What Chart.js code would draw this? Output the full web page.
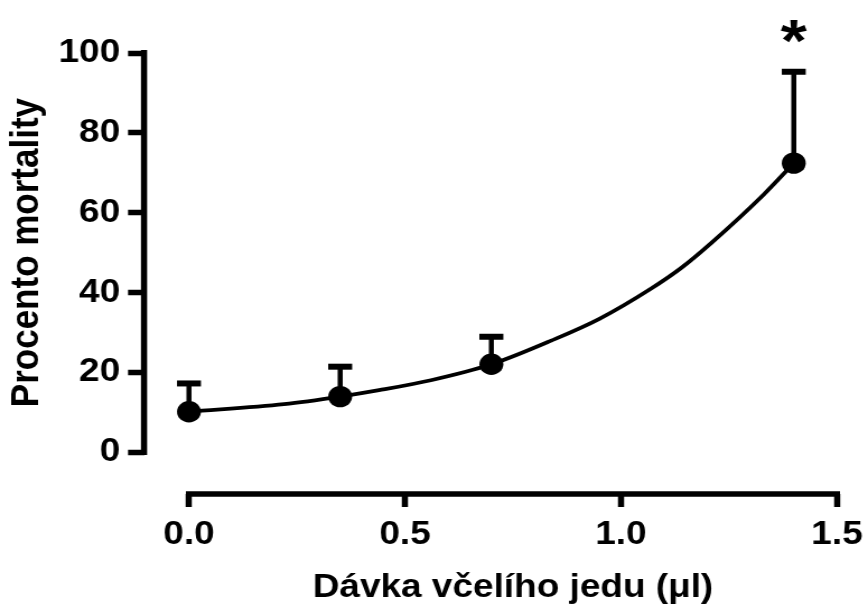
<!DOCTYPE html>
<html>
<head>
<meta charset="utf-8">
<script src="https://cdn.jsdelivr.net/npm/chart.js@4.4.1/dist/chart.umd.min.js"></script>
<style>
  html, body { margin: 0; padding: 0; background: #fff; overflow: hidden; }
  /* reference is stretched sideways a bit, so draw narrower and stretch */
  #wrap { width: 774px; height: 610px; transform: scaleX(1.12); transform-origin: 0 0; }
  #chart { display: block; }
</style>
</head>
<body>
<div id="wrap"><canvas id="chart" width="774" height="610"></canvas></div>
<script>
/* ── DATA ─────────────────────────────────────────── */
const doses = [0, 0.35, 0.7, 1.4];
const mortality = [10.1, 13.9, 22.0, 72.4];
const sdUpper = [7.1, 7.5, 6.9, 22.9];
const marks = ['', '', '', '*'];

// fitted curve
const fitX = [0, 0.22, 0.35, 0.44, 0.56, 0.70, 0.84, 0.95, 1.07, 1.14, 1.21, 1.33, 1.40];
const fitY = [10.1, 12.0, 13.9, 15.5, 18.0, 22.0, 28.0, 33.4, 41.0, 46.2, 52.5, 64.5, 72.4];

const xTicks = [0, 0.5, 1.0, 1.5];
const xTickLabels = ['0.0', '0.5', '1.0', '1.5'];
const yTicks = [0, 20, 40, 60, 80, 100];

const xTitle = 'Dávka včelího jedu (μl)';
const yTitle = 'Procento mortality';

/* ── STYLE ────────────────────────────────────────── */
const FONT = '"Liberation Sans", Arial, Helvetica, sans-serif';
const AXIS_W = 5.5;

// axis lines, SD whiskers, significance star and axis titles
// (titles centred on the drawn axis span, like the Prism original)
const prismPlugin = {
    id: 'prism',
    beforeDatasetsDraw(chart) {
        const { ctx, chartArea, scales: { x, y } } = chart;
        ctx.save();
        ctx.strokeStyle = '#000';
        ctx.lineCap = 'butt';
        ctx.lineWidth = AXIS_W;

        // y axis only spans its ticks
        ctx.beginPath();
        ctx.moveTo(chartArea.left, y.getPixelForValue(yTicks[yTicks.length - 1]) - 3);
        ctx.lineTo(chartArea.left, y.getPixelForValue(yTicks[0]) + 3);
        ctx.stroke();

        // x axis, detached below
        ctx.beginPath();
        ctx.moveTo(x.getPixelForValue(xTicks[0]) - 2.7, chartArea.bottom);
        ctx.lineTo(x.getPixelForValue(xTicks[xTicks.length - 1]) + 2.7, chartArea.bottom);
        ctx.stroke();

        doses.forEach((d, i) => {
            const px = x.getPixelForValue(d);
            const mid = y.getPixelForValue(mortality[i]);
            const top = y.getPixelForValue(mortality[i] + sdUpper[i]);
            ctx.lineWidth = 4.5;
            ctx.beginPath();
            ctx.moveTo(px, mid);
            ctx.lineTo(px, top);
            ctx.stroke();
            ctx.lineWidth = 6;
            ctx.beginPath();
            ctx.moveTo(px - 10.7, top);
            ctx.lineTo(px + 10.7, top);
            ctx.stroke();
        });
        ctx.restore();
    },
    afterDatasetsDraw(chart) {
        const { ctx, scales: { x, y } } = chart;
        ctx.save();
        ctx.fillStyle = '#000';
        ctx.font = 'bold 60px ' + FONT;
        ctx.textAlign = 'center';
        ctx.textBaseline = 'alphabetic';
        doses.forEach((d, i) => {
            if (!marks[i]) return;
            const m = ctx.measureText(marks[i]);
            const cy = y.getPixelForValue(mortality[i] + sdUpper[i]) - 40;
            ctx.fillText(marks[i], x.getPixelForValue(d),
                cy + (m.actualBoundingBoxAscent - m.actualBoundingBoxDescent) / 2);
        });

        // axis titles
        ctx.textBaseline = 'middle';
        ctx.font = 'bold 33px ' + FONT;
        const xc = (x.getPixelForValue(xTicks[0]) + x.getPixelForValue(xTicks[xTicks.length - 1])) / 2;
        ctx.fillText(xTitle, xc, 588);

        ctx.font = 'bold 35px ' + FONT;
        const yc = (y.getPixelForValue(yTicks[0]) + y.getPixelForValue(yTicks[yTicks.length - 1])) / 2;
        ctx.translate(24.5, yc);
        ctx.rotate(-Math.PI / 2);
        ctx.fillText(yTitle, 0, 0);
        ctx.restore();
    }
};

const tickFont = { family: FONT, size: 33, weight: 'bold' };

new Chart(document.getElementById('chart'), {
    type: 'line',
    data: {
        datasets: [{
            label: 'mean',
            data: doses.map((d, i) => ({ x: d, y: mortality[i] })),
            showLine: false,
            pointRadius: 10.7,
            pointHoverRadius: 10.7,
            pointBackgroundColor: '#000',
            pointBorderWidth: 0,
            order: 0
        }, {
            label: 'fit',
            data: fitX.map((v, i) => ({ x: v, y: fitY[i] })),
            borderColor: '#000',
            borderWidth: 3.8,
            pointRadius: 0,
            cubicInterpolationMode: 'monotone',
            fill: false,
            order: 1
        }]
    },
    options: {
        responsive: false,
        animation: false,
        events: [],
        layout: { padding: { left: 0, right: 26.7, top: 53, bottom: 0 } },
        plugins: { legend: { display: false }, tooltip: { enabled: false } },
        scales: {
            x: {
                type: 'linear',
                min: -0.104,
                max: 1.5,
                afterBuildTicks: s => { s.ticks = xTicks.map(v => ({ value: v })); },
                afterFit: s => { s.height = 116; s.paddingLeft = 0; s.paddingRight = 0; },
                grid: { drawOnChartArea: false, tickLength: 13, tickWidth: AXIS_W, tickColor: '#000' },
                border: { display: false },
                ticks: {
                    color: '#000', font: tickFont, padding: 8, maxRotation: 0,
                    callback: v => xTickLabels[xTicks.indexOf(v)]
                },
                title: { display: false }
            },
            y: {
                min: -10.5,
                max: 100,
                afterBuildTicks: s => { s.ticks = yTicks.map(v => ({ value: v })); },
                afterFit: s => { s.width = 128.6; s.paddingTop = 0; s.paddingBottom = 0; },
                grid: { drawOnChartArea: false, tickLength: 14.3, tickWidth: AXIS_W, tickColor: '#000' },
                border: { display: false },
                ticks: { color: '#000', font: tickFont, padding: 7 },
                title: { display: false }
            }
        }
    },
    plugins: [prismPlugin]
});
</script>
</body>
</html>
